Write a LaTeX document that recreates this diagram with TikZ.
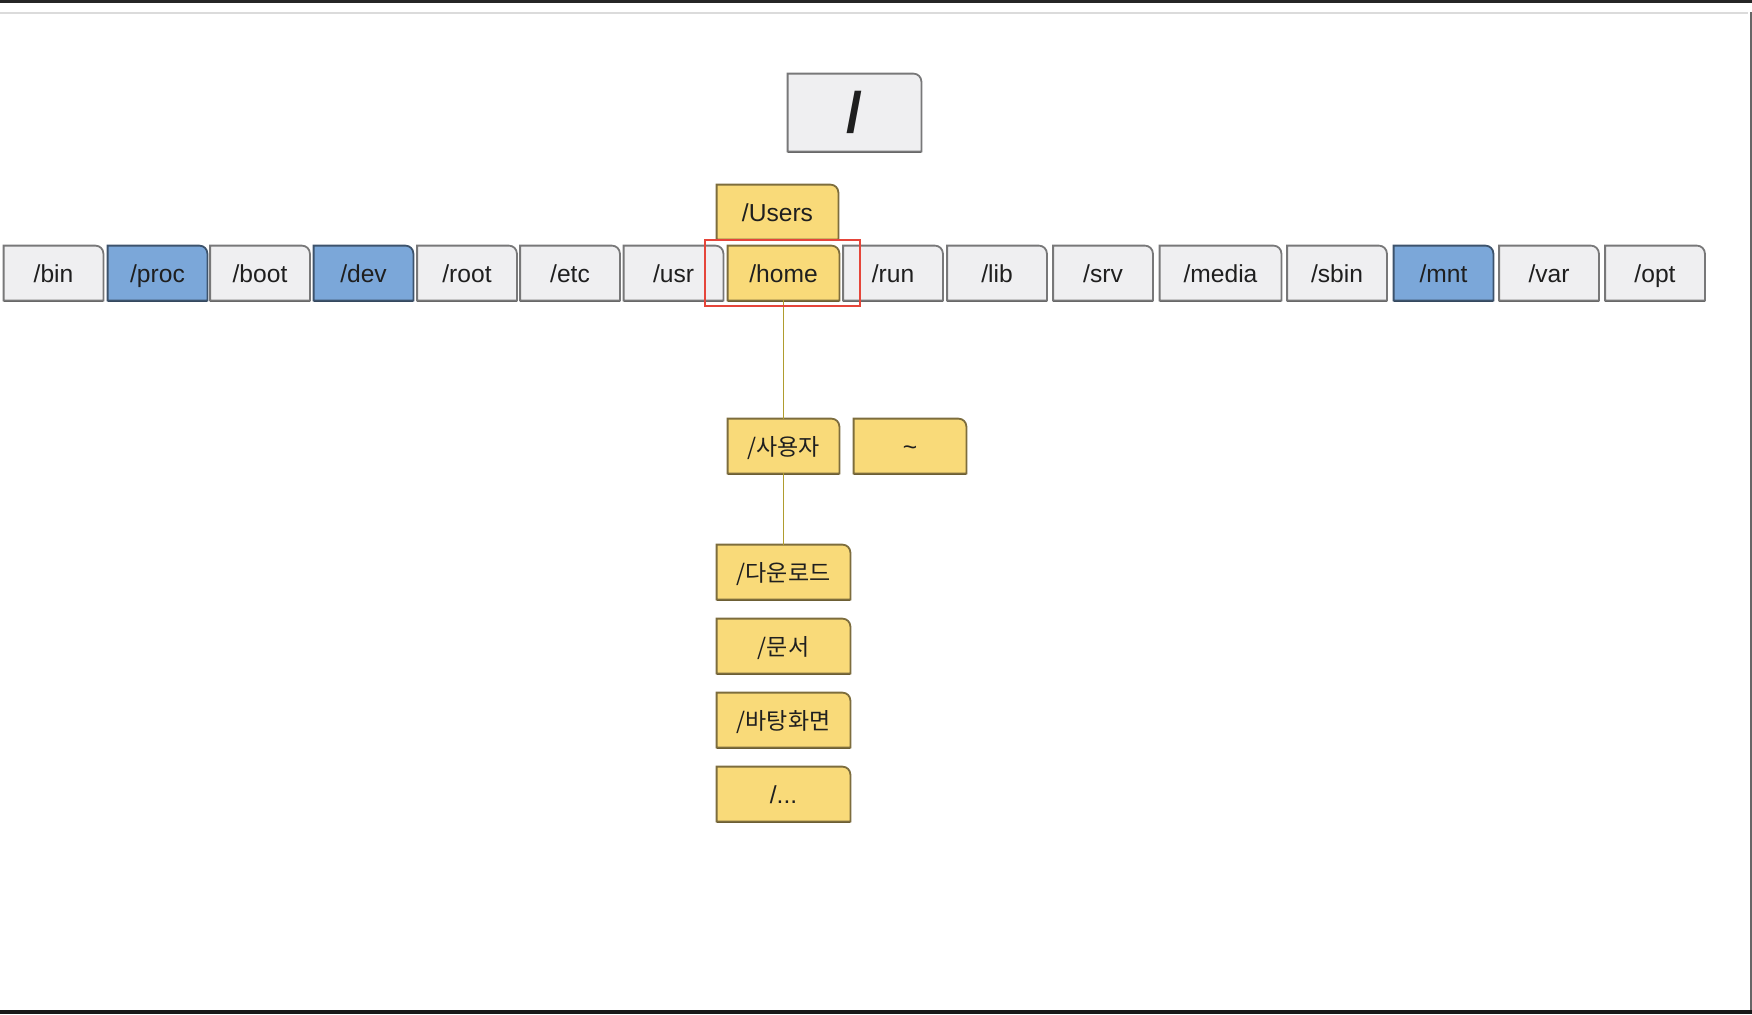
\documentclass[tikz,border=0pt]{standalone}
\usepackage{fontspec}
\setmainfont{Liberation Sans}
\newfontfamily\kr{Noto Sans CJK KR}
\usetikzlibrary{backgrounds}
\definecolor{dirgray}{HTML}{EFEFF1}
\definecolor{dirblue}{HTML}{7BA7D9}
\definecolor{diryellow}{HTML}{F9DA79}
\definecolor{linkolive}{HTML}{B09C2E}
\definecolor{framered}{HTML}{E5453A}

\begin{document}
\begin{tikzpicture}[x=0.5pt, y=-0.5pt]
    \tikzstyle{every node}=[inner sep=0pt, minimum width=49.5pt, minimum height=27pt, text height=12pt, text depth=2.8pt, font=\fontsize{12.3}{14}\selectfont, text=black!88]
    \tikzstyle{hangul}=[font=\kr\fontsize{11.5}{14}\selectfont]
    \tikzstyle{tab}=[line width=0.9pt]
    \tikzstyle{link}=[linkolive, line width=0.9pt]
    \tikzstyle{redframe}=[framered, line width=1.2pt]

    \useasboundingbox (0,0) rectangle (1752,1014);
    % screen edges
    \fill[black!85] (0,0) rectangle (1752,3);
    \draw[black!14, line width=1pt] (0,13) -- (1748,13);
    \draw[black!60, line width=0.9pt] (1751,12) -- (1751,1010);
    \fill[black!90] (0,1010) rectangle (1752,1014);

    \node[minimum width=66.5pt, minimum height=38.5pt, text height=24pt, text depth=3.8pt, font=\fontsize{28.5}{30}\selectfont\bfseries] (slash) at (854.5,112.5) {/};
    \node[minimum width=60.5pt] (users) at (777.5,212) {/Users};

    \foreach \n/\x in {bin/53.5, proc/157.5, boot/260, dev/363.5, root/467, etc/570, usr/673.5, run/893, lib/997, srv/1103, sbin/1337, mnt/1443.5, var/1549, opt/1655}
        \node (\n) at (\x,273) {/\n};
    \node[minimum width=55.5pt] (home) at (783.5,273) {/home};
    \node[minimum width=60.5pt] (media) at (1220.5,273) {/media};

    \node[minimum width=55.5pt, hangul] (user) at (783.5,446) {/사용자};
    \node[minimum width=56pt] (tilde) at (910,446) {\textasciitilde};
    \node[minimum width=66.5pt, hangul] (down) at (783.5,572) {/다운로드};
    \node[minimum width=66.5pt, hangul] (docs) at (783.5,646) {/문서};
    \node[minimum width=66.5pt, hangul] (desk) at (783.5,720) {/바탕화면};
    \node[minimum width=66.5pt] (more) at (783.5,794) {/...};

    % tab shapes behind the labels
    \begin{scope}[on background layer]
        \foreach \n/\c in {slash/dirgray, users/diryellow, bin/dirgray, proc/dirblue, boot/dirgray, dev/dirblue, root/dirgray, etc/dirgray, usr/dirgray, home/diryellow, run/dirgray, lib/dirgray, srv/dirgray, media/dirgray, sbin/dirgray, mnt/dirblue, var/dirgray, opt/dirgray, user/diryellow, tilde/diryellow, down/diryellow, docs/diryellow, desk/diryellow, more/diryellow} {
            \fill[\c!40!black, transform canvas={yshift=-0.7pt}] (\n.south west) -- (\n.north west) -- ([xshift=-4pt]\n.north east) arc[start angle=90, end angle=0, radius=4pt] -- (\n.south east) -- cycle;
            \filldraw[tab, fill=\c, draw=\c!50!black] (\n.south west) -- (\n.north west) -- ([xshift=-4pt]\n.north east) arc[start angle=90, end angle=0, radius=4pt] -- (\n.south east) -- cycle;
        }
    \end{scope}

    \draw[link] (home) -- (user);
    \draw[link] (user) -- (down);

    \draw[redframe] (705,240) rectangle (860,306);
\end{tikzpicture}
\end{document}
